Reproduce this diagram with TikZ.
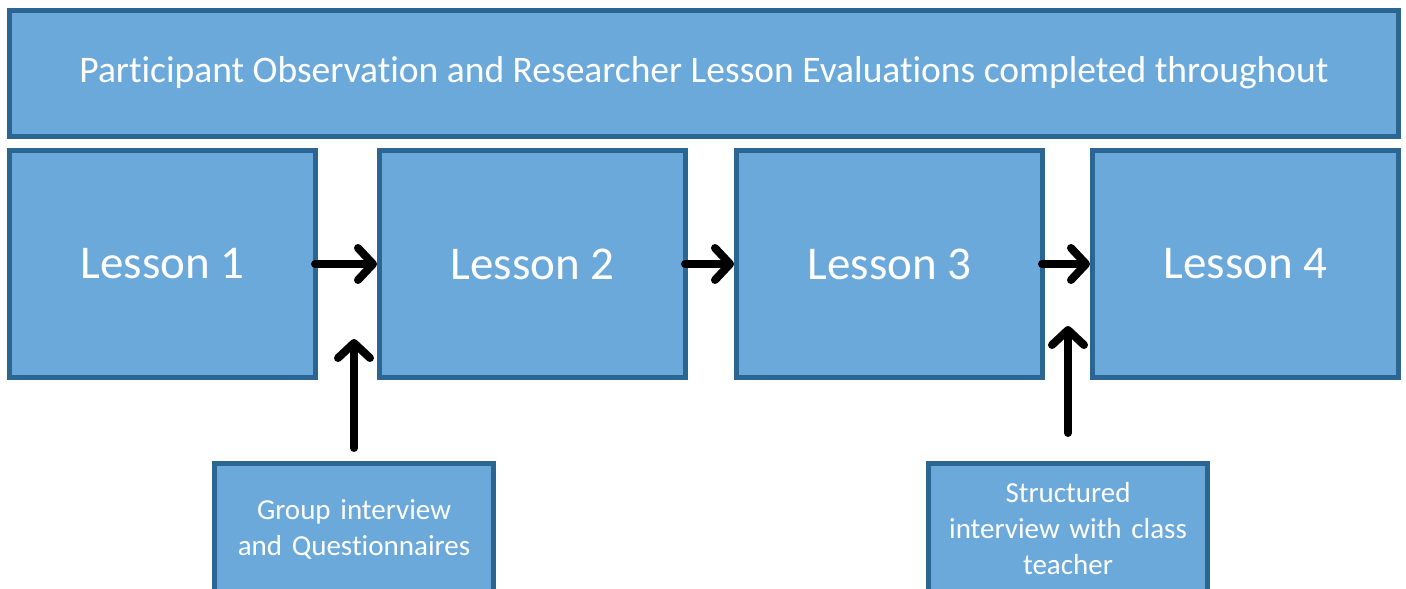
\documentclass[tikz,border=0pt]{standalone}
\usepackage{fontspec}
\setmainfont{Carlito}[Ligatures=CommonOff]
\usetikzlibrary{arrows.meta}
\definecolor{boxfill}{HTML}{6CA9DB}
\definecolor{boxline}{HTML}{2B6591}
\begin{document}
\begin{tikzpicture}[x=1pt,y=-1pt,
  panel/.style={draw=boxline,fill=boxfill,line width=5pt,text=white,
    inner sep=0pt,align=center},
  lesson/.style={panel,minimum width=306pt,minimum height=227pt,font=\fontsize{47}{56}\selectfont},
  note/.style={panel,minimum width=279pt,minimum height=131pt,text width=270pt,font=\fontsize{29}{36}\selectfont},
  flow/.style={line width=8pt,line cap=round,line join=round,
    -{Straight Barb[length=15pt,width=32pt,line cap=round,line join=round]}}]
\useasboundingbox (0,0) rectangle (1406,589);
\clip (0,0) rectangle (1406,589);
% banner across the top
\node[panel,minimum width=1389pt,minimum height=126pt,font=\fontsize{37.5}{44}\selectfont] (top) at (704,73)
  {Participant Observation and Researcher Lesson Evaluations completed throughout};
% the four lessons
\node[lesson] (l1) at (162.5,264) {Lesson 1};
\node[lesson] (l2) at (532.5,264) {Lesson 2};
\node[lesson] (l3) at (889.5,264) {Lesson 3};
\node[lesson] (l4) at (1245.5,264) {Lesson 4};
% data collection between lessons
\node[note] (n1) at (354,529) {Group interview\\and Questionnaires};
\node[note] (n2) at (1068,529) {Structured\\interview with class\\teacher};
\coordinate (t1) at (354,339);
\coordinate (t2) at (1068,326);
% connectors
\draw[flow] ([xshift=-3pt]l1.east) -- (l2.west);
\draw[flow] ([xshift=-3pt]l2.east) -- (l3.west);
\draw[flow] ([xshift=-3pt]l3.east) -- (l4.west);
\draw[flow] ([yshift=13pt]n1.north) -- (t1);
\draw[flow] ([yshift=28pt]n2.north) -- (t2);
\end{tikzpicture}
\end{document}
